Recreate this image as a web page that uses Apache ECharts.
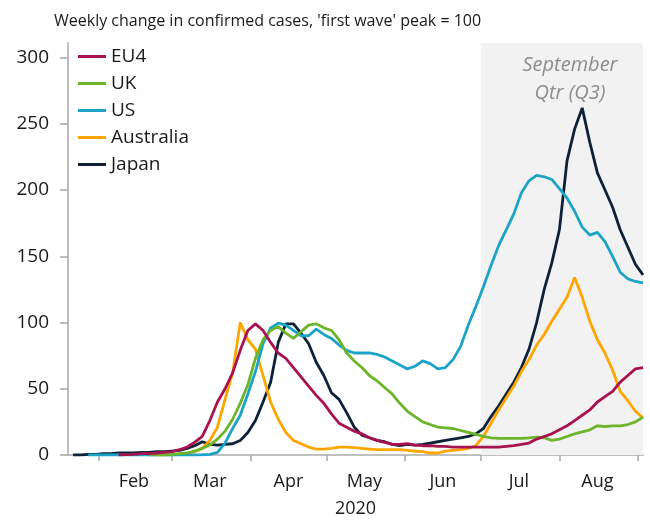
<!DOCTYPE html>
<html>
<head>
<meta charset="utf-8">
<script src="https://cdn.jsdelivr.net/npm/echarts@6/dist/echarts.min.js"></script>
<style>
html,body{margin:0;padding:0;background:#fff;}
#chart{width:650px;height:521px;}
</style>
</head>
<body>
<div id="chart"></div>
<script>
var dates = [
 '2020-01-22','2020-01-25','2020-01-28','2020-01-31',
 '2020-02-03','2020-02-06','2020-02-09','2020-02-12','2020-02-15','2020-02-18','2020-02-21','2020-02-24','2020-02-27',
 '2020-03-01','2020-03-04','2020-03-07','2020-03-10','2020-03-13','2020-03-16','2020-03-19','2020-03-22','2020-03-25','2020-03-28','2020-03-31',
 '2020-04-03','2020-04-06','2020-04-09','2020-04-12','2020-04-15','2020-04-18','2020-04-21','2020-04-24','2020-04-27','2020-04-30',
 '2020-05-03','2020-05-06','2020-05-09','2020-05-12','2020-05-15','2020-05-18','2020-05-21','2020-05-24','2020-05-27','2020-05-30',
 '2020-06-02','2020-06-05','2020-06-08','2020-06-11','2020-06-14','2020-06-17','2020-06-20','2020-06-23','2020-06-26','2020-06-29',
 '2020-07-02','2020-07-05','2020-07-08','2020-07-11','2020-07-14','2020-07-17','2020-07-20','2020-07-23','2020-07-26','2020-07-29',
 '2020-08-01','2020-08-04','2020-08-07','2020-08-10','2020-08-13','2020-08-16','2020-08-19','2020-08-22','2020-08-25','2020-08-28','2020-08-31',
 '2020-09-03'
];

var eu4 = [null,null,null,null,null,null,0,0.3,0.5,1,1,1.5,2,2.5,4,6,9.5,14,26,40,50,62,79,94,99,94,85,77,73,66,59,52,45,39,31,24,21,18,16,13,11,9.5,8,8,8.5,7.5,7,7,6.5,6.5,6,6,6,6,6,6,6,6.5,7,8,9,12,14,16,19,22,26,30,34,40,44,48,55,60,65,66];

var uk = [null,null,null,null,null,null,null,null,null,null,0,0,0,0.3,1,1.5,3,5,7.5,12,18,27,39,53,73,87,94,97,92,88,93,98,99,96,94,87,77,71,66,60,56,51,46,39,33,29,25,23,21,20.5,20,18.5,17,15.5,14,13,12.6,12.6,12.6,12.6,13,13.5,13,11,12,14,16,17.5,19,22,21.5,22,22,23,25,28.5];

var us = [null,null,0,0,0,0,0,0,0,0,0,0,0,0,0,0,0,0.2,0.5,2,9,20,30,46,63,84,96,99.5,98,94,90,90,95,91,88,83,79,77,77,77,76,74,71,68,65,67,71,69,65,66,72,82,98,112,127,143,158,170,182,198,207,211,210,208,201,194,184,172,166,168,161,150,138,133,131,130];

var australia = [null,null,null,null,null,null,null,null,null,null,null,null,0,0.3,0.6,1,2.5,5,11,21,42,62,100,87,80,60,40,27,17,11,8.5,6,4.5,4.5,5,6,6,5.5,5,4.5,4,4,4,4,3.5,3,2.5,1.5,1.5,3,3.5,4,5,7,14,24,34,43,52,63,72,83,91,101,110,119,134,119,101,87,77,64,48,41,33,28];

var japan = [0,0,0.5,0.5,1,1,1.5,1.5,1.5,2,2,2.5,2.5,3,3.5,5,7,10,8,7.5,8,8.5,11,17,26,40,55,85,99,99,92,84,70,60,47,42,32,21,15,13,11,10,8,7,8,7.5,8,9,10,11,12,13,14,16,20,29,37,46,55,66,80,100,125,145,170,222,246,262,236,213,200,187,170,157,144,136];

var yTicks = [0, 50, 100, 150, 200, 250, 300];
var monthStarts = ['2020-02-01','2020-03-01','2020-04-01','2020-05-01','2020-06-01','2020-07-01','2020-08-01','2020-09-01'];
var monthLabelDates = ['2020-02-15','2020-03-16','2020-04-16','2020-05-16','2020-06-16','2020-07-16','2020-08-16'];
var monthNames = ['Jan','Feb','Mar','Apr','May','Jun','Jul','Aug','Sep','Oct','Nov','Dec'];
var xStart = '2020-01-20', xEnd = '2020-09-03';
var q3Start = '2020-07-01';

function t(s){ return Date.parse(s + 'T00:00:00Z'); }
function pairs(vals){ return dates.map(function(d,i){ return [t(d), vals[i]]; }); }

var FONT = 'Open Sans';
var chart = echarts.init(document.getElementById('chart'), null, {renderer:'canvas'});

function mkSeries(name, vals, color, extra){
  var s = {
    name: name, type: 'line', data: pairs(vals), showSymbol: false, symbol: 'none',
    lineStyle: {color: color, width: 2.8}, itemStyle: {color: color},
    connectNulls: false, animation: false
  };
  if (extra) for (var k in extra) s[k] = extra[k];
  return s;
}

chart.setOption({
  animation: false,
  title: {
    text: "Weekly change in confirmed cases, 'first wave' peak = 100",
    left: 49, top: 8,
    textStyle: {fontFamily: FONT, fontSize: 16, fontWeight: 'normal', color: '#1a1a1a'}
  },
  legend: {
    orient: 'vertical', left: 73, top: 42,
    icon: 'rect', itemWidth: 28, itemHeight: 3, itemGap: 8,
    data: ['EU4','UK','US','Australia','Japan'],
    textStyle: {fontFamily: FONT, fontSize: 19, color: '#1a1a1a'}
  },
  grid: {left: 68, right: 7, top: 43, bottom: 66, containLabel: false, outerBoundsMode: 'none'},
  xAxis: {
    type: 'value', min: t(xStart), max: t(xEnd),
    name: '2020', nameLocation: 'middle', nameGap: 45,
    nameTextStyle: {fontFamily: FONT, fontSize: 18, color: '#1a1a1a'},
    axisLine: {show: true, lineStyle: {color: '#bfbfbf', width: 2}},
    axisTick: {show: true, length: 6, lineStyle: {color: '#a6a6a6', width: 1.5}, customValues: monthStarts.map(t)},
    axisLabel: {
      customValues: monthLabelDates.map(t), margin: 18,
      fontFamily: FONT, fontSize: 18, color: '#1a1a1a',
      formatter: function(v){ return monthNames[new Date(v).getUTCMonth()]; }
    },
    splitLine: {show: false}
  },
  yAxis: {
    type: 'value', min: 0, max: 311,
    axisLine: {show: true, lineStyle: {color: '#bfbfbf', width: 2}},
    axisTick: {show: true, length: 8, lineStyle: {color: '#a6a6a6', width: 1.5}, customValues: yTicks},
    axisLabel: {customValues: yTicks, margin: 19, fontFamily: FONT, fontSize: 19, color: '#1a1a1a'},
    splitLine: {show: false}
  },
  graphic: [{
    type: 'text', x: 570, y: 51, z: 10,
    style: {
      text: 'September\nQtr (Q3)', align: 'center', textAlign: 'center', lineHeight: 28,
      font: 'italic 20px "' + FONT + '"', fill: '#8c8c8c'
    }
  }],
  series: [
    mkSeries('Japan', japan, '#0d2238', {
      markArea: {
        silent: true, itemStyle: {color: '#f2f2f2'},
        data: [[{xAxis: t(q3Start)}, {xAxis: t(xEnd)}]]
      }
    }),
    mkSeries('Australia', australia, '#ffa500'),
    mkSeries('US', us, '#1ca3c8'),
    mkSeries('UK', uk, '#6cb52a'),
    mkSeries('EU4', eu4, '#a8124f')
  ]
});
</script>
</body>
</html>
